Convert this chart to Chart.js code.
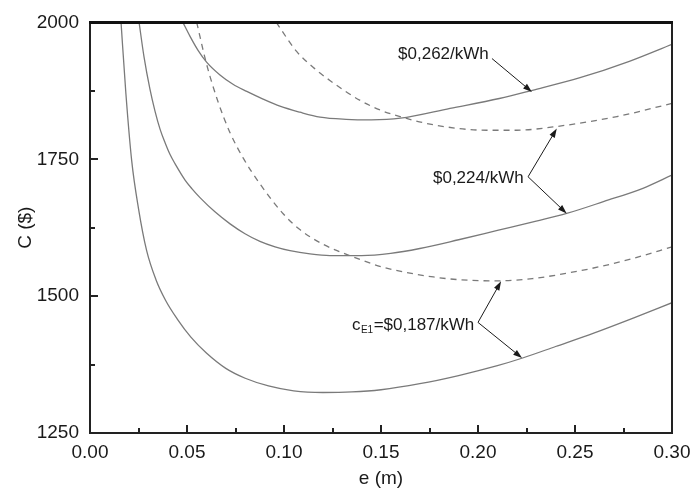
<!DOCTYPE html>
<html>
<head>
<meta charset="utf-8">
<script src="https://cdn.jsdelivr.net/npm/chart.js@4.4.1/dist/chart.umd.min.js"></script>
<style>
  body { margin: 0; background: #fff; }
  #wrap { width: 691px; height: 493px; }
</style>
</head>
<body>
<div id="wrap"><canvas id="c" width="691" height="493"></canvas></div>
<script>
// thickness e (m) and cost C ($)
// solid curves
const eA = [0.016, 0.0185, 0.0215, 0.025, 0.0292, 0.034, 0.039, 0.045, 0.052, 0.060, 0.070, 0.080, 0.092, 0.105, 0.12, 0.135, 0.15, 0.17, 0.19, 0.21, 0.223, 0.24, 0.26, 0.28, 0.30];
const cA = [2000, 1870, 1747, 1660, 1583, 1530, 1492, 1458, 1425, 1396, 1368, 1350, 1336, 1327, 1324, 1325, 1329, 1340, 1355, 1373, 1387, 1408, 1433, 1460, 1488];

const eB = [0.0253, 0.0278, 0.0309, 0.0335, 0.0361, 0.0387, 0.0412, 0.0438, 0.049, 0.0526, 0.0567, 0.0644, 0.0722, 0.0799, 0.0876, 0.0954, 0.1031, 0.1134, 0.1237, 0.14, 0.155, 0.17, 0.19, 0.21, 0.23, 0.2457, 0.265, 0.285, 0.30];
const cB = [2000, 1938, 1878, 1838, 1805, 1780, 1759, 1742, 1712, 1696, 1680, 1654, 1632, 1614, 1600, 1590, 1583, 1577, 1574, 1574, 1578, 1587, 1603, 1620, 1637, 1651, 1673, 1697, 1721];

const eC = [0.0479, 0.0515, 0.0557, 0.0602, 0.067, 0.0737, 0.0808, 0.0892, 0.0979, 0.1082, 0.1186, 0.132, 0.145, 0.16, 0.1856, 0.211, 0.228, 0.2526, 0.278, 0.30];
const cC = [2000, 1975, 1949, 1927, 1904, 1887, 1874, 1860, 1847, 1836, 1827, 1823, 1822, 1825, 1843, 1861, 1876, 1899, 1929, 1960];

// dashed curves
const eD1 = [0.055, 0.060, 0.066, 0.072, 0.079, 0.088, 0.0997, 0.108, 0.12, 0.134, 0.151, 0.177, 0.195, 0.211, 0.228, 0.246, 0.263, 0.28, 0.30];
const cD1 = [2000, 1925, 1855, 1800, 1752, 1703, 1650, 1622, 1595, 1574, 1553, 1535, 1529, 1528, 1532, 1542, 1554, 1569, 1590];

const eD2 = [0.096, 0.1065, 0.115, 0.124, 0.139, 0.1495, 0.156, 0.177, 0.2046, 0.22, 0.2387, 0.2716, 0.30];
const cD2 = [2000, 1947, 1918, 1893, 1858, 1840, 1832, 1813, 1803, 1803, 1809, 1828, 1852];

const xTicks = [0, 0.05, 0.10, 0.15, 0.20, 0.25, 0.30];
const yTicks = [1250, 1500, 1750, 2000];

const FONT = "'Liberation Sans', Arial, sans-serif";

function pts(xs, ys) {
  return xs.map((v, i) => ({ x: v, y: ys[i] }));
}

function curve(xs, ys, dashed) {
  return {
    data: pts(xs, ys),
    showLine: true,
    borderColor: '#7a7a7a',
    borderWidth: 1.3,
    borderDash: dashed ? [6, 5] : [],
    pointRadius: 0,
    cubicInterpolationMode: 'monotone',
    fill: false
  };
}

// labels with arrows (data coords)
const notes = [
  { text: '$0,262/kWh', e: 0.1588, c: 1942, from: [0.2072, 1934], to: [[0.2278, 1873]] },
  { text: '$0,224/kWh', e: 0.1768, c: 1716, from: [0.2258, 1718], to: [[0.2406, 1806], [0.2457, 1651]] },
  { text: '=$0,187/kWh', sub: true, e: 0.135, c: 1447, from: [0.2, 1452], to: [[0.2119, 1527], [0.2227, 1387]] }
];

function arrow(ctx, x0, y0, x1, y1) {
  const a = Math.atan2(y1 - y0, x1 - x0);
  const L = 9, W = 3;
  ctx.beginPath();
  ctx.moveTo(x0, y0);
  ctx.lineTo(x1 - Math.cos(a) * L * 0.8, y1 - Math.sin(a) * L * 0.8);
  ctx.stroke();
  ctx.beginPath();
  ctx.moveTo(x1, y1);
  ctx.lineTo(x1 - L * Math.cos(a) + W * Math.sin(a), y1 - L * Math.sin(a) - W * Math.cos(a));
  ctx.lineTo(x1 - L * Math.cos(a) - W * Math.sin(a), y1 - L * Math.sin(a) + W * Math.cos(a));
  ctx.closePath();
  ctx.fill();
}

const framePlugin = {
  id: 'frame',
  afterDatasetsDraw(chart) {
    const { ctx, chartArea: a, scales: { x, y } } = chart;
    ctx.save();
    ctx.strokeStyle = '#222';
    ctx.lineWidth = 2;
    // inward ticks
    for (let i = 0; i <= 12; i++) {
      const px = Math.round(x.getPixelForValue(i * 0.025));
      const len = i % 2 ? 5 : 8;
      ctx.beginPath(); ctx.moveTo(px, a.bottom); ctx.lineTo(px, a.bottom - len); ctx.stroke();
    }
    for (let i = 0; i <= 6; i++) {
      const py = Math.round(y.getPixelForValue(1250 + i * 125));
      const len = i % 2 ? 5 : 8;
      ctx.beginPath(); ctx.moveTo(a.left, py); ctx.lineTo(a.left + len, py); ctx.stroke();
    }
    // box
    ctx.beginPath(); ctx.moveTo(a.left, a.top); ctx.lineTo(a.left, a.bottom); ctx.lineTo(a.right, a.bottom); ctx.lineTo(a.right, a.top); ctx.stroke();
    ctx.lineWidth = 3;
    ctx.strokeStyle = '#111';
    ctx.beginPath(); ctx.moveTo(a.left - 1, a.top); ctx.lineTo(a.right + 1, a.top); ctx.stroke();

    // annotations
    ctx.fillStyle = '#1a1a1a';
    ctx.strokeStyle = '#1a1a1a';
    ctx.lineWidth = 1;
    ctx.textBaseline = 'middle';
    ctx.textAlign = 'left';
    notes.forEach(n => {
      let tx = x.getPixelForValue(n.e);
      const ty = y.getPixelForValue(n.c);
      if (n.sub) {
        ctx.font = '17px ' + FONT;
        ctx.fillText('c', tx, ty);
        tx += ctx.measureText('c').width + 0.5;
        ctx.font = '10px ' + FONT;
        ctx.fillText('E1', tx, ty + 5);
        tx += ctx.measureText('E1').width + 0.5;
      }
      ctx.font = '17px ' + FONT;
      ctx.fillText(n.text, tx, ty);
      const fx = x.getPixelForValue(n.from[0]), fy = y.getPixelForValue(n.from[1]);
      n.to.forEach(t => arrow(ctx, fx, fy, x.getPixelForValue(t[0]), y.getPixelForValue(t[1])));
    });
    ctx.restore();
  }
};

new Chart(document.getElementById('c'), {
  type: 'scatter',
  data: {
    datasets: [
      curve(eA, cA, false),
      curve(eB, cB, false),
      curve(eC, cC, false),
      curve(eD1, cD1, true),
      curve(eD2, cD2, true)
    ]
  },
  options: {
    responsive: false,
    animation: false,
    layout: { padding: { top: 21, right: 0, bottom: 0, left: 0 } },
    plugins: { legend: { display: false }, tooltip: { enabled: false } },
    scales: {
      x: {
        type: 'linear', min: 0, max: 0.3,
        afterFit: s => { s.height = 60; s.paddingRight = 19; s.paddingLeft = 0; },
        afterBuildTicks: s => { s.ticks = xTicks.map(v => ({ value: v })); },
        grid: { display: false, drawTicks: false },
        border: { display: false },
        ticks: { padding: 8, color: '#1a1a1a', font: { family: FONT, size: 19 }, maxRotation: 0,
                  callback: v => v.toFixed(2) },
        title: { display: true, text: 'e (m)', color: '#1a1a1a', padding: { top: 0, bottom: 3 },
                 font: { family: FONT, size: 19 } }
      },
      y: {
        type: 'linear', min: 1250, max: 2000,
        afterFit: s => { s.width = 90; },
        afterBuildTicks: s => { s.ticks = yTicks.map(v => ({ value: v })); },
        grid: { display: false, drawTicks: false },
        border: { display: false },
        ticks: { padding: 11, color: '#1a1a1a', font: { family: FONT, size: 19 },
                 callback: v => String(v) },
        title: { display: true, text: 'C ($)', color: '#1a1a1a', padding: { top: 14, bottom: 0 },
                 font: { family: FONT, size: 19 } }
      }
    }
  },
  plugins: [framePlugin]
});
</script>
</body>
</html>
